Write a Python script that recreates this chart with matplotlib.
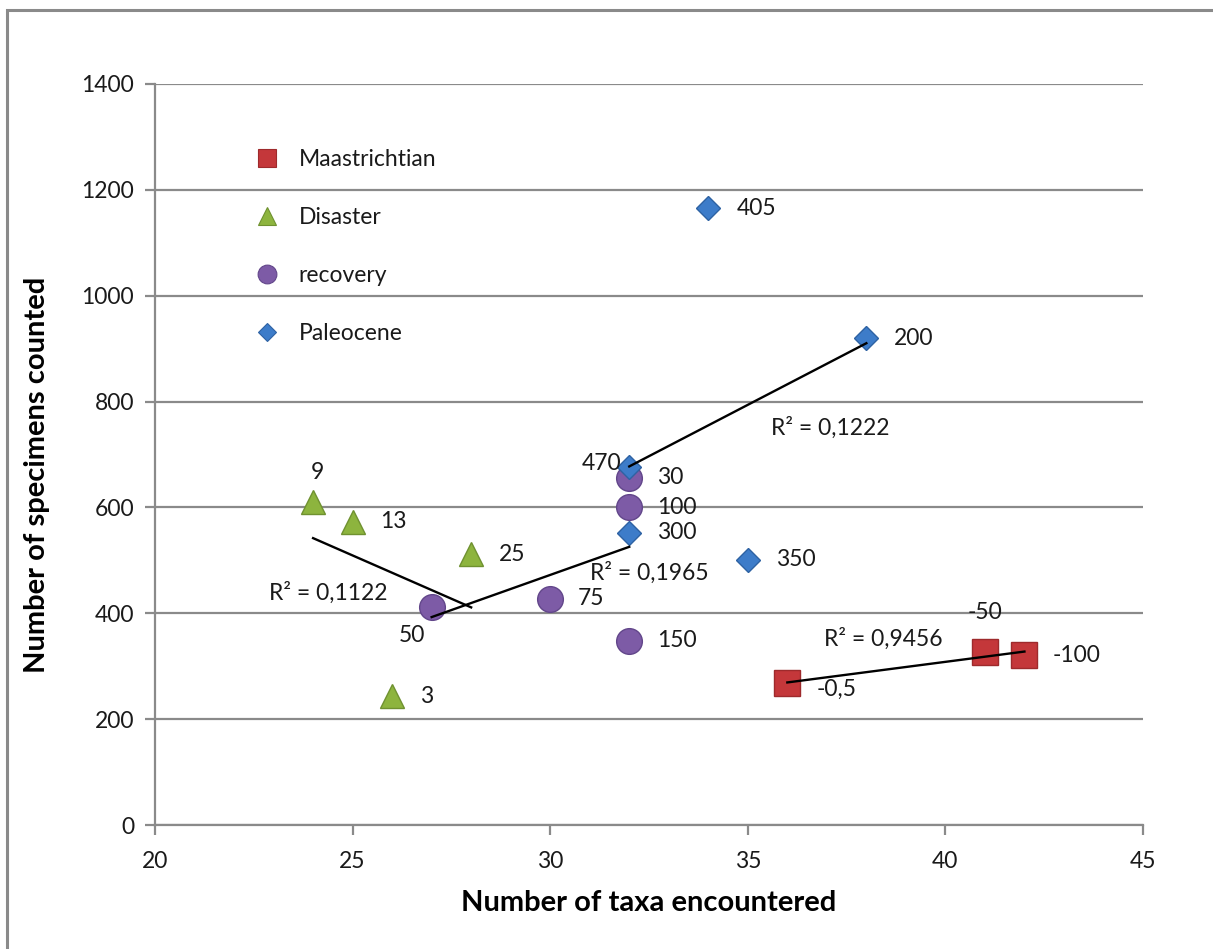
import numpy as np
import matplotlib
matplotlib.use("Agg")
import matplotlib.pyplot as plt
from matplotlib.lines import Line2D

plt.rcParams['font.family'] = ['Lato', 'DejaVu Sans']

# ---- data ----
maas_x = [36, 41, 42]
maas_y = [268, 326, 321]
maas_lab = ["-0,5", "-50", "-100"]

dis_x = [24, 25, 28, 26]
dis_y = [611, 573, 512, 243]
dis_lab = ["9", "13", "25", "3"]

rec_x = [32, 32, 27, 30, 32]
rec_y = [656, 600, 411, 427, 348]
rec_lab = ["30", "100", "50", "75", "150"]

pal_x = [34, 38, 32, 32, 35]
pal_y = [1165, 920, 676, 552, 501]
pal_lab = ["405", "200", "470", "300", "350"]

series_names = ["Maastrichtian", "Disaster", "recovery", "Paleocene"]
r2_text = ["R² = 0,9456", "R² = 0,1122", "R² = 0,1965", "R² = 0,1222"]
r2_pos = [(38.42, 352), (24.38, 438), (32.52, 476), (37.08, 750)]

x_ticks = [20, 25, 30, 35, 40, 45]
y_ticks = [0, 200, 400, 600, 800, 1000, 1200, 1400]

# ---- styling ----
W, H = 1213, 949
DPI = 100
fig = plt.figure(figsize=(W / DPI, H / DPI), dpi=DPI)
ax = fig.add_axes([155 / W, 1 - 825 / H, (1143 - 155) / W, (825 - 84) / H])

grid_c = '#8a8a8a'
FS = 16.5

# outer chart border (left + top visible)
fig.add_artist(plt.Rectangle((7 / W, -0.05), 1.2, 1 - 10 / H + 0.05,
                             transform=fig.transFigure, fill=False,
                             edgecolor=grid_c, linewidth=2.2))

ax.set_xlim(20, 45)
ax.set_ylim(0, 1400)
ax.set_xticks(x_ticks)
ax.set_yticks(y_ticks)
ax.yaxis.grid(True, color=grid_c, linewidth=1.6)
ax.set_axisbelow(True)
for s in ['top', 'right']:
    ax.spines[s].set_visible(False)
for s in ['left', 'bottom']:
    ax.spines[s].set_color(grid_c)
    ax.spines[s].set_linewidth(1.6)
ax.tick_params(axis='both', direction='out', length=7, width=1.6, color=grid_c,
               labelsize=FS, labelcolor='#1a1a1a')
ax.tick_params(axis='y', pad=8)
ax.tick_params(axis='x', pad=12)

ax.set_xlabel("Number of taxa encountered", fontsize=21, fontweight='bold')
ax.set_ylabel("Number of specimens counted", fontsize=21, fontweight='bold')
ax.yaxis.set_label_coords(37 / W, 0.5, transform=fig.transFigure)
ax.yaxis.label.set_va('center')
ax.xaxis.set_label_coords(0.5, 1 - 903 / H)
ax.xaxis.label.set_transform(
    matplotlib.transforms.blended_transform_factory(ax.transAxes, fig.transFigure))
ax.xaxis.label.set_va('center')

colors = ['#C4373A', '#8DB43E', '#7D5BA6', '#3D7CC9']
edges = ['#9E2A2C', '#6F9130', '#62468A', '#2E62A3']
markers = ['s', '^', 'o', 'D']
msizes = [18.5, 17.5, 18.5, 12.5]
lmsizes = [13.5, 12.5, 13.5, 9.5]

all_x = [maas_x, dis_x, rec_x, pal_x]
all_y = [maas_y, dis_y, rec_y, pal_y]
all_lab = [maas_lab, dis_lab, rec_lab, pal_lab]

for i, (xs, ys) in enumerate(zip(all_x, all_y)):
    ax.plot(xs, ys, linestyle='none', marker=markers[i], markersize=msizes[i],
            markerfacecolor=colors[i], markeredgecolor=edges[i],
            markeredgewidth=1.0, zorder=3)

# linear trendlines fitted to each series
for i, (xs, ys) in enumerate(zip(all_x, all_y)):
    xa = np.array(xs, float)
    ya = np.array(ys, float)
    k, b = np.polyfit(xa, ya, 1)
    xx = np.array([xa.min(), xa.max()])
    ax.plot(xx, k * xx + b, color='black', linewidth=1.7, zorder=4)

for t, (px, py) in zip(r2_text, r2_pos):
    ax.text(px, py, t, fontsize=FS, ha='center', va='center', color='#1a1a1a',
            zorder=5)

# data label offsets (pixels) and alignment
default_off = (28, 0, 'left')
special = {
    ("Maastrichtian", 0): (29, -6, 'left'),
    ("Maastrichtian", 1): (0, 40, 'center'),
    ("Disaster", 0): (4, 29, 'center'),
    ("recovery", 2): (-20, -28, 'center'),
    ("Paleocene", 2): (-8, 4, 'right'),
}
for i, name in enumerate(series_names):
    for j, (x, y, lab) in enumerate(zip(all_x[i], all_y[i], all_lab[i])):
        dx, dy, ha = special.get((name, j), default_off)
        ax.annotate(lab, (x, y), xytext=(dx, dy), textcoords='offset pixels',
                    ha=ha, va='center', fontsize=FS, color='#1a1a1a', zorder=6)

# legend
handles = [Line2D([], [], linestyle='none', marker=markers[i],
                  markersize=lmsizes[i], markerfacecolor=colors[i],
                  markeredgecolor=edges[i], markeredgewidth=0.8)
           for i in range(4)]
leg = ax.legend(handles, series_names, loc='upper left',
                bbox_to_anchor=(256 / W, 1 - 149 / H),
                bbox_transform=fig.transFigure, frameon=False,
                fontsize=FS, handlelength=1.0, handletextpad=0.85,
                labelspacing=1.62, borderpad=0, borderaxespad=0)
for t in leg.get_texts():
    t.set_color('#1a1a1a')

fig.savefig("out.png", dpi=DPI, facecolor='white')
